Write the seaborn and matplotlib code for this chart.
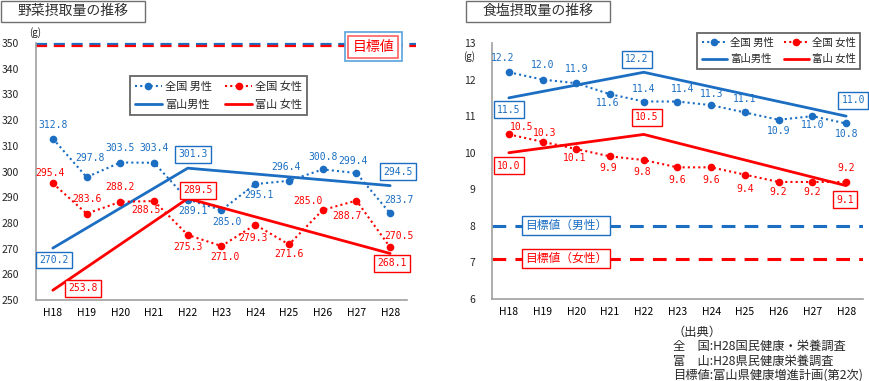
import pandas as pd
import seaborn as sns
import matplotlib.pyplot as plt
from matplotlib.patches import Rectangle

# data
years = ["H18", "H19", "H20", "H21", "H22", "H23", "H24", "H25", "H26", "H27", "H28"]
toyama_years = ["H18", "H22", "H28"]

veg_nat_male = [312.8, 297.8, 303.5, 303.4, 289.1, 285.0, 295.1, 296.4, 300.8, 299.4, 283.7]
veg_nat_female = [295.4, 283.6, 288.2, 288.5, 275.3, 271.0, 279.3, 271.6, 285.0, 288.7, 270.5]
veg_toyama_male = [270.2, 301.3, 294.5]
veg_toyama_female = [253.8, 289.5, 268.1]
veg_target = 350

salt_nat_male = [12.2, 12.0, 11.9, 11.6, 11.4, 11.4, 11.3, 11.1, 10.9, 11.0, 10.8]
salt_nat_female = [10.5, 10.3, 10.1, 9.9, 9.8, 9.6, 9.6, 9.4, 9.2, 9.2, 9.2]
salt_toyama_male = [11.5, 12.2, 11.0]
salt_toyama_female = [10.0, 10.5, 9.1]
salt_target_male = 8
salt_target_female = 7.1

# label offsets in pixels (dx, dy up)
veg_nm_off = [(0, 14), (3, 19), (0, 15), (0, 15), (5, -11), (6, -12), (4, -11), (-3, 14), (0, 12), (-3, 12), (9, 13)]
veg_nf_off = [(-3, 10), (0, 15), (0, 15), (-8, -9), (0, -12), (4, -11), (-2, -13), (0, -10), (-15, 9), (-9, -15), (9, 11)]
veg_tm_off = [(1, -12), (5, 14), (8, 14)]
veg_tf_off = [(30, 2), (10, 8), (2, -10)]
salt_nm_off = [(-6, 14), (0, 15), (0, 14), (-2, -9), (0, 13), (5, 13), (0, 11), (0, 13), (0, -11), (0, -9), (0, -11)]
salt_nf_off = [(13, 7), (2, 9), (-2, -9), (-2, -12), (-2, -12), (0, -13), (0, -13), (0, -14), (0, -10), (0, -10), (0, 14)]
salt_tm_off = [(0, -12), (-7, 13), (7, 16)]
salt_tf_off = [(0, -13), (3, 17), (-1, -14)]

BLUE = "#1B6EC2"
RED = "#FF0000"
GRAY = "#A0A0A0"

sns.set_style("white")
plt.rcParams["font.family"] = ["Noto Sans CJK JP", "DejaVu Sans"]

fig = plt.figure(figsize=(8.7, 3.81), dpi=100)
ax1 = fig.add_axes([36 / 870, 81 / 381, 371 / 870, 257 / 381])
ax2 = fig.add_axes([492 / 870, 82 / 381, 371 / 870, 256 / 381])

pos = list(range(len(years)))
tpos = [years.index(y) for y in toyama_years]


def draw_series(ax, nm, nf, tm, tf, fmt, offs):
    df_nat = pd.DataFrame({"pos": pos, "male": nm, "female": nf})
    df_toy = pd.DataFrame({"pos": tpos, "male": tm, "female": tf})
    sns.lineplot(data=df_nat, x="pos", y="male", ax=ax, color=BLUE, lw=1.5,
                 linestyle=(0, (1, 1.5)), marker="o", markersize=5.5,
                 markeredgewidth=0, label="全国 男性")
    sns.lineplot(data=df_toy, x="pos", y="male", ax=ax, color=BLUE, lw=2,
                 label="富山男性")
    sns.lineplot(data=df_nat, x="pos", y="female", ax=ax, color=RED, lw=1.5,
                 linestyle=(0, (1, 1.5)), marker="o", markersize=5.5,
                 markeredgewidth=0, label="全国 女性")
    sns.lineplot(data=df_toy, x="pos", y="female", ax=ax, color=RED, lw=2,
                 label="富山 女性")

    nm_off, nf_off, tm_off, tf_off = offs
    for x, v, o in zip(pos, nm, nm_off):
        ax.annotate(fmt.format(v), (x, v), xytext=o, textcoords="offset pixels",
                    ha="center", va="center", color=BLUE, fontsize=7,
                    family="DejaVu Sans Mono")
    for x, v, o in zip(pos, nf, nf_off):
        ax.annotate(fmt.format(v), (x, v), xytext=o, textcoords="offset pixels",
                    ha="center", va="center", color=RED, fontsize=7,
                    family="DejaVu Sans Mono")
    for vals, o_list, c in [(tm, tm_off, BLUE), (tf, tf_off, RED)]:
        for x, v, o in zip(tpos, vals, o_list):
            ax.annotate(fmt.format(v), (x, v), xytext=o, textcoords="offset pixels",
                        ha="center", va="center", color=c, fontsize=7,
                        family="DejaVu Sans Mono",
                        bbox=dict(boxstyle="square,pad=0.35", fc="white",
                                  ec=c, lw=1))


def style_axes(ax, ylim, yticks, ypad):
    ax.set_xlim(-0.5, len(years) - 0.5)
    ax.set_ylim(*ylim)
    ax.set_yticks(yticks)
    ax.set_xticks(pos)
    ax.set_xticklabels(years)
    ax.set_xticks([p + 0.5 for p in pos[:-1]] + [-0.5, len(years) - 0.5], minor=True)
    ax.tick_params(axis="x", which="major", length=0, pad=6, labelsize=7.5,
                   colors="#000000")
    ax.tick_params(axis="x", which="minor", length=3, direction="out",
                   color=GRAY, width=1)
    ax.tick_params(axis="y", length=3, direction="in", color=GRAY, width=1,
                   pad=ypad, labelsize=7.5)
    ax.set_xlabel("")
    ax.set_ylabel("")
    for s in ["top", "right"]:
        ax.spines[s].set_visible(False)
    for s in ["left", "bottom"]:
        ax.spines[s].set_color(GRAY)
        ax.spines[s].set_linewidth(1.2)


def add_legend(ax, anchor, fsize, spacing, colspace):
    h, l = ax.get_legend_handles_labels()
    leg = ax.legend(h, l, ncol=2, loc="upper left", bbox_to_anchor=anchor,
                    frameon=True, fancybox=False, edgecolor="#404040",
                    fontsize=fsize, handlelength=2.4, columnspacing=colspace,
                    labelspacing=spacing, borderpad=0.45, handletextpad=0.3,
                    borderaxespad=0)
    leg.get_frame().set_linewidth(1.3)
    leg.set_zorder(10)


# ---- vegetable chart
draw_series(ax1, veg_nat_male, veg_nat_female, veg_toyama_male, veg_toyama_female,
            "{:.1f}", (veg_nm_off, veg_nf_off, veg_tm_off, veg_tf_off))
style_axes(ax1, (250, 350), range(250, 351, 10), 12.5)
ax1.axhline(veg_target - 0.3, xmin=0, xmax=1.025, color=BLUE, lw=1.6,
            dashes=(5, 3), clip_on=False, zorder=1)
ax1.axhline(veg_target - 1.0, xmin=0, xmax=1.025, color=RED, lw=1.6,
            dashes=(5, 3), clip_on=False, zorder=1)
ax1.text(9.5, 348.5, "目標値", ha="center", va="center", fontsize=10, color="none",
         bbox=dict(boxstyle="square,pad=0.55", fc="white", ec="#5BA3DC", lw=1.2),
         zorder=5)
ax1.text(9.5, 348.5, "目標値", ha="center", va="center", fontsize=10, color=RED,
         bbox=dict(boxstyle="square,pad=0.3", fc="white", ec="#FF6060", lw=1.2),
         zorder=6)
add_legend(ax1, (94 / 371, 1 - 33 / 257), 8, 0.75, 1.2)

# ---- salt chart
draw_series(ax2, salt_nat_male, salt_nat_female, salt_toyama_male, salt_toyama_female,
            "{:.1f}", (salt_nm_off, salt_nf_off, salt_tm_off, salt_tf_off))
style_axes(ax2, (6, 13), range(6, 14), 12)
ax2.axhline(salt_target_male, color=BLUE, lw=2.2, dashes=(4.5, 3), zorder=1)
ax2.axhline(salt_target_female, color=RED, lw=2.2, dashes=(4.5, 3), zorder=1)
ax2.text(1.7, salt_target_male, "目標値（男性）", ha="center", va="center",
         fontsize=8.5, color=BLUE,
         bbox=dict(boxstyle="square,pad=0.25", fc="white", ec=BLUE, lw=1))
ax2.text(1.7, salt_target_female, "目標値（女性）", ha="center", va="center",
         fontsize=8.5, color=RED,
         bbox=dict(boxstyle="square,pad=0.25", fc="white", ec=RED, lw=1))
add_legend(ax2, (205 / 371, 1 + 10 / 256), 7.5, 0.6, 0.95)

# ---- titles, units, source
for x0, w, title in [(1, 144, "野菜摂取量の推移"), (466, 144, "食塩摂取量の推移")]:
    fig.patches.append(Rectangle((x0 / 870, 1 - 22 / 381), w / 870, 21 / 381,
                                 transform=fig.transFigure, fill=False,
                                 ec="#707070", lw=1))
    fig.text((x0 + w / 2) / 870, 1 - 11 / 381, title, ha="center", va="center",
             fontsize=10, color="#303030")

fig.text(35 / 870, 1 - 33 / 381, "(g)", ha="center", va="center", fontsize=7)
fig.text(469 / 870, 1 - 57 / 381, "(g)", ha="center", va="center", fontsize=7)

source_lines = ["（出典）", "全　国:H28国民健康・栄養調査", "富　山:H28県民健康栄養調査",
                "目標値:富山県健康増進計画(第2次)"]
for i, line in enumerate(source_lines):
    fig.text(673 / 870, 1 - (332 + i * 14.5) / 381, line, ha="left", va="center",
             fontsize=8.8)

plt.savefig("out.png", dpi=100)
plt.close()
